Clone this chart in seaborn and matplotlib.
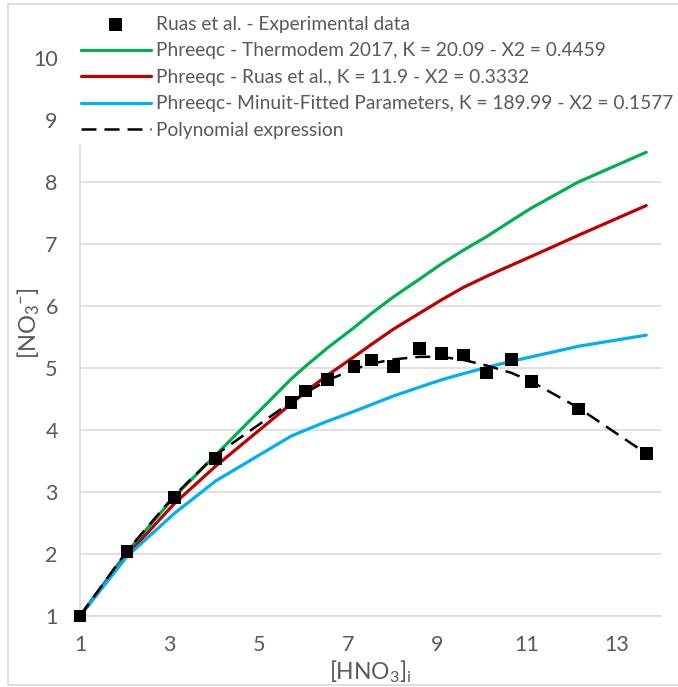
import numpy as np
import pandas as pd
import matplotlib
matplotlib.use("Agg")
import matplotlib.pyplot as plt
import seaborn as sns
from matplotlib.patches import Rectangle

# ---------------- data ----------------
hno3 = [1.00, 2.05, 3.12, 4.04, 5.72, 6.05, 6.53, 7.13, 7.52, 8.02,
        8.59, 9.09, 9.58, 10.10, 10.66, 11.10, 12.15, 13.67]
exp_no3 = [1.00, 2.04, 2.91, 3.54, 4.45, 4.63, 4.81, 5.03, 5.13, 5.02,
           5.32, 5.24, 5.21, 4.92, 5.14, 4.78, 4.34, 3.62]
thermodem = [1.00, 2.03, 2.93, 3.60, 4.82, 5.03, 5.32, 5.65, 5.88, 6.15,
             6.43, 6.68, 6.90, 7.12, 7.38, 7.58, 8.00, 8.48]
ruas = [1.00, 1.98, 2.82, 3.42, 4.42, 4.62, 4.88, 5.18, 5.38, 5.63,
        5.88, 6.10, 6.30, 6.48, 6.66, 6.80, 7.14, 7.62]
minuit = [1.00, 1.96, 2.66, 3.18, 3.90, 4.00, 4.14, 4.30, 4.41, 4.55,
          4.69, 4.81, 4.91, 5.01, 5.11, 5.18, 5.35, 5.53]
polynomial = [1.00, 2.05, 2.95, 3.60, 4.45, 4.60, 4.80, 4.98, 5.07, 5.14,
              5.18, 5.18, 5.13, 5.04, 4.92, 4.78, 4.36, 3.62]

labels = ["Ruas et al. - Experimental data",
          "Phreeqc - Thermodem 2017, K = 20.09 - X2 = 0.4459",
          "Phreeqc - Ruas et al., K = 11.9 - X2 = 0.3332",
          "Phreeqc- Minuit-Fitted Parameters, K = 189.99 - X2 = 0.1577",
          "Polynomial expression"]
x_ticks = [1, 3, 5, 7, 9, 11, 13]
y_ticks = [1, 2, 3, 4, 5, 6, 7, 8, 9, 10]

df = pd.DataFrame({"x": hno3, "exp": exp_no3, "thermo": thermodem,
                   "ruas": ruas, "minuit": minuit, "poly": polynomial})

# ---------------- style ----------------
sns.set_theme(style="white")
plt.rcParams["font.family"] = ["Lato", "DejaVu Sans"]
plt.rcParams["mathtext.default"] = "regular"
TXT = "#595959"
GRID = "#D9D9D9"

W, H = 678, 687
fig = plt.figure(figsize=(W / 100, H / 100), dpi=100)
fig.patch.set_facecolor("white")
# chart border
fig.patches.append(Rectangle((8 / W, 1 - 685 / H), 1.0, 681 / H,
                             transform=fig.transFigure, fill=False,
                             edgecolor=GRID, lw=1.2, zorder=0))

ax = fig.add_axes([80 / W, 1 - 616 / H, 581 / W, 558 / H])

sns.lineplot(data=df, x="x", y="thermo", ax=ax, color="#00B050", lw=2.3,
             label=labels[1], sort=False, zorder=3)
sns.lineplot(data=df, x="x", y="ruas", ax=ax, color="#C00000", lw=2.3,
             label=labels[2], sort=False, zorder=3)
sns.lineplot(data=df, x="x", y="minuit", ax=ax, color="#00B0F0", lw=2.3,
             label=labels[3], sort=False, zorder=3)
sns.lineplot(data=df, x="x", y="poly", ax=ax, color="black", lw=1.8,
             label=labels[4], sort=False, zorder=4, dashes=False)
ax.lines[-1].set_linestyle((0, (6, 3.2)))
sns.scatterplot(data=df, x="x", y="exp", ax=ax, color="black", marker="s",
                s=85, edgecolor="none", label=labels[0], zorder=5)
ax.collections[-1].set_clip_on(False)

ax.set_xlim(1, 14)
ax.set_ylim(1, 10)
ax.set_xticks(x_ticks)
ax.set_yticks(y_ticks)
ax.grid(axis="y", color=GRID, lw=1.1)
ax.grid(axis="x", visible=False)
for side in ["top", "right"]:
    ax.spines[side].set_visible(False)
ax.spines["left"].set_color(GRID)
ax.spines["left"].set_linewidth(1.1)
ax.spines["bottom"].set_color(GRID)
ax.spines["bottom"].set_linewidth(1.1)
ax.tick_params(axis="both", length=0, labelsize=15.5, colors=TXT)
ax.tick_params(axis="y", pad=16)
ax.tick_params(axis="x", pad=14)

ax.set_xlabel("[HNO$_3$]$_i$", fontsize=16.5, color=TXT, labelpad=2)
ax.set_ylabel("[NO$_3$$^{-}$]", fontsize=17, color=TXT)
ax.yaxis.set_label_coords(-0.066, 0.525)

handles, labs = ax.get_legend_handles_labels()
order = [labs.index(l) for l in labels]
leg = ax.legend([handles[i] for i in order], [labs[i] for i in order],
                loc="upper left", bbox_to_anchor=(75 / W, 1 - 10 / H),
                bbox_transform=fig.transFigure, frameon=True,
                facecolor="white", edgecolor="none", framealpha=1,
                fancybox=False, fontsize=13.8, borderpad=0.3,
                borderaxespad=0, handlelength=3.65, handletextpad=0.25,
                labelspacing=0.5, markerscale=1.0)
for t in leg.get_texts():
    t.set_color(TXT)
leg.set_zorder(10)

fig.savefig("out.png", dpi=100, facecolor="white")
